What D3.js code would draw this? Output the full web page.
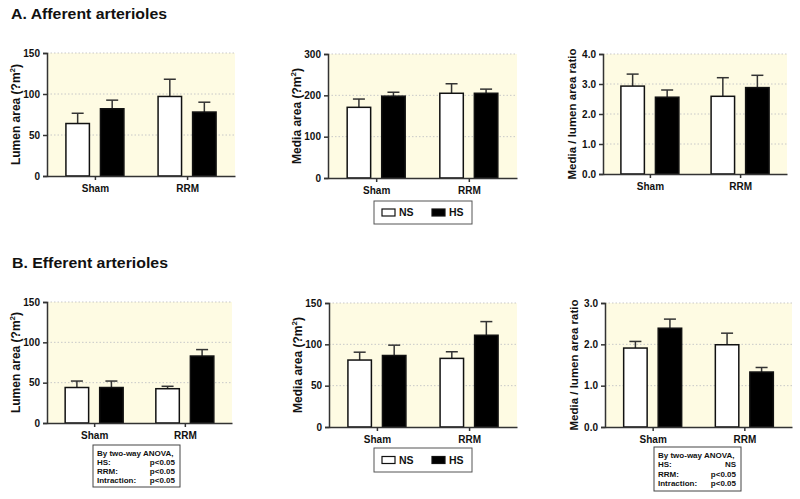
<!DOCTYPE html>
<html>
<head>
<meta charset="utf-8">
<script src="https://cdn.jsdelivr.net/npm/d3@7"></script>
<style>
  html, body { margin: 0; padding: 0; background: #ffffff; }
  svg { display: block; }
  text { font-family: "Liberation Sans", Arial, Helvetica, sans-serif; font-weight: bold; fill: #111; }
</style>
</head>
<body>
<svg id="chart" width="800" height="499"></svg>
<script>
// ---------------- DATA ----------------
const groups = ["Sham", "RRM"];
const seriesNames = ["NS", "HS"];

const sectionTitles = ["A. Afferent arterioles", "B. Efferent arterioles"];

// A. Afferent – lumen area
const affLumenNS = [64, 97];
const affLumenNSErr = [12.5, 21];
const affLumenHS = [82, 78];
const affLumenHSErr = [10.5, 12];
// A. Afferent – media area
const affMediaNS = [171, 205];
const affMediaNSErr = [20, 23];
const affMediaHS = [198, 205];
const affMediaHSErr = [9.5, 10];
// A. Afferent – media/lumen ratio
const affRatioNS = [2.93, 2.59];
const affRatioNSErr = [0.40, 0.62];
const affRatioHS = [2.56, 2.88];
const affRatioHSErr = [0.24, 0.41];

// B. Efferent – lumen area
const effLumenNS = [44, 42.5];
const effLumenNSErr = [8, 3];
const effLumenHS = [44, 83];
const effLumenHSErr = [8, 8];
// B. Efferent – media area
const effMediaNS = [81, 83];
const effMediaNSErr = [9.5, 8];
const effMediaHS = [86.5, 111];
const effMediaHSErr = [12.5, 16.5];
// B. Efferent – media/lumen ratio
const effRatioNS = [1.91, 1.99];
const effRatioNSErr = [0.16, 0.28];
const effRatioHS = [2.39, 1.33];
const effRatioHSErr = [0.22, 0.11];

// tick labels
const ticksArea150 = [0, 50, 100, 150];
const ticksArea300 = [0, 100, 200, 300];
const ticksRatio4 = [0, 1, 2, 3, 4];
const ticksRatio3 = [0, 1, 2, 3];

// stats annotations
const statsEffLumen = [["By two-way ANOVA,", ""], ["HS:", "p<0.05"], ["RRM:", "p<0.05"], ["Intraction:", "p<0.05"]];
const statsEffRatio = [["By two-way ANOVA,", ""], ["HS:", "NS"], ["RRM:", "p<0.05"], ["Intraction:", "p<0.05"]];

// ---------------- LAYOUT ----------------
const panels = [
  { label: "Lumen area (?m", sup: "2", ns: affLumenNS, nsE: affLumenNSErr, hs: affLumenHS, hsE: affLumenHSErr, ticks: ticksArea150, fmt: d3.format("d"),
    box: { l: 47, r: 235, t: 53, b: 176 } },
  { label: "Media area (?m", sup: "2", ns: affMediaNS, nsE: affMediaNSErr, hs: affMediaHS, hsE: affMediaHSErr, ticks: ticksArea300, fmt: d3.format("d"),
    box: { l: 328, r: 517, t: 54, b: 178 } },
  { label: "Media / lumen area ratio", sup: null, ns: affRatioNS, nsE: affRatioNSErr, hs: affRatioHS, hsE: affRatioHSErr, ticks: ticksRatio4, fmt: d3.format(".1f"),
    box: { l: 603, r: 787, t: 54, b: 174 } },
  { label: "Lumen area (?m", sup: "2", ns: effLumenNS, nsE: effLumenNSErr, hs: effLumenHS, hsE: effLumenHSErr, ticks: ticksArea150, fmt: d3.format("d"),
    box: { l: 47, r: 232, t: 302, b: 423 }, stats: statsEffLumen, statsBox: { l: 93, r: 180, t: 445, b: 487 } },
  { label: "Media area (?m", sup: "2", ns: effMediaNS, nsE: effMediaNSErr, hs: effMediaHS, hsE: effMediaHSErr, ticks: ticksArea150, fmt: d3.format("d"),
    box: { l: 329, r: 517, t: 303, b: 427 } },
  { label: "Media / lumen area ratio", sup: null, ns: effRatioNS, nsE: effRatioNSErr, hs: effRatioHS, hsE: effRatioHSErr, ticks: ticksRatio3, fmt: d3.format(".1f"),
    box: { l: 605, r: 792, t: 303, b: 427 }, stats: statsEffRatio, statsBox: { l: 654, r: 741, t: 447, b: 491 } }
];

const legends = [ { l: 374, r: 472, t: 201, b: 224 }, { l: 374, r: 472, t: 448, b: 472 } ];
const titlePos = [ { x: 11, y: 19 }, { x: 12, y: 268 } ];

const axisColor = "#333";
const bgColor = "#fefbe3";

const svg = d3.select("#chart");

// titles
sectionTitles.forEach((t, i) => {
  svg.append("text").attr("x", titlePos[i].x).attr("y", titlePos[i].y)
    .attr("font-size", 15.5).attr("textLength", 156).attr("lengthAdjust", "spacingAndGlyphs")
    .text(t);
});

panels.forEach(p => {
  const B = p.box;
  const g = svg.append("g");
  const maxT = p.ticks[p.ticks.length - 1];
  const y = d3.scaleLinear().domain([0, maxT]).range([B.b, B.t]);
  const xg = d3.scalePoint().domain(groups).range([B.l, B.r]).padding(0.52);
  const xs = d3.scaleBand().domain(seriesNames).range([-29, 29]).paddingInner(0.32);

  // background
  g.append("rect").attr("x", B.l).attr("y", B.t).attr("width", B.r - B.l).attr("height", B.b - B.t).attr("fill", bgColor);

  // gridlines
  g.selectAll(".grid").data(p.ticks.filter(t => t > 0)).join("line")
    .attr("x1", B.l).attr("x2", B.r).attr("y1", d => y(d)).attr("y2", d => y(d))
    .attr("stroke", "#c8c8c8").attr("stroke-width", 1).attr("stroke-dasharray", "1.5,2");

  // bars
  const rows = [];
  groups.forEach((grp, gi) => {
    rows.push({ grp, s: "NS", v: p.ns[gi], e: p.nsE[gi] });
    rows.push({ grp, s: "HS", v: p.hs[gi], e: p.hsE[gi] });
  });
  const bw = xs.bandwidth();
  rows.forEach(r => {
    const cx = xg(r.grp) + xs(r.s) + bw / 2;
    // error bar
    g.append("line").attr("x1", cx).attr("x2", cx).attr("y1", y(r.v)).attr("y2", y(r.v + r.e))
      .attr("stroke", axisColor).attr("stroke-width", 1.5);
    g.append("line").attr("x1", cx - 6).attr("x2", cx + 6).attr("y1", y(r.v + r.e)).attr("y2", y(r.v + r.e))
      .attr("stroke", axisColor).attr("stroke-width", 1.5);
    g.append("rect").attr("x", xg(r.grp) + xs(r.s)).attr("y", y(r.v)).attr("width", bw).attr("height", y(0) - y(r.v))
      .attr("fill", r.s === "NS" ? "#ffffff" : "#000000").attr("stroke", "#111").attr("stroke-width", 1.5);
  });

  // y axis
  const yAxis = d3.axisLeft(y).tickValues(p.ticks).tickFormat(p.fmt).tickSize(4).tickPadding(3);
  const ya = g.append("g").attr("transform", `translate(${B.l},0)`).call(yAxis);
  ya.select(".domain").attr("stroke", axisColor).attr("stroke-width", 1.5);
  ya.selectAll(".tick line").attr("stroke", axisColor).attr("stroke-width", 1.5);
  ya.selectAll(".tick text").attr("font-size", 10).attr("font-family", "Liberation Sans, Arial, sans-serif").attr("font-weight", "bold").attr("fill", "#111");

  // x axis
  const xAxis = d3.axisBottom(xg).tickSize(4).tickPadding(5).tickSizeOuter(0);
  const xa = g.append("g").attr("transform", `translate(0,${B.b})`).call(xAxis);
  xa.select(".domain").attr("stroke", axisColor).attr("stroke-width", 1.5);
  xa.selectAll(".tick line").attr("stroke", axisColor).attr("stroke-width", 1.5);
  xa.selectAll(".tick text").attr("font-size", 10).attr("font-family", "Liberation Sans, Arial, sans-serif").attr("font-weight", "bold").attr("fill", "#111");

  // y label
  const lt = g.append("text")
    .attr("transform", `translate(${B.l - 27},${(B.t + B.b) / 2}) rotate(-90)`)
    .attr("text-anchor", "middle").attr("font-size", p.sup ? 12 : 11.5);
  lt.append("tspan").text(p.label);
  if (p.sup) {
    lt.append("tspan").attr("font-size", 8).attr("dy", -5).text(p.sup);
    lt.append("tspan").attr("dy", 5).text(")");
  }

  // stats box
  if (p.stats) {
    const S = p.statsBox;
    g.append("rect").attr("x", S.l).attr("y", S.t).attr("width", S.r - S.l).attr("height", S.b - S.t)
      .attr("fill", "#fff").attr("stroke", "#444").attr("stroke-width", 1);
    const lh = (S.b - S.t - 6) / 4;
    p.stats.forEach((row, i) => {
      const yy = S.t + 3 + lh * i + lh * 0.5 + 3;
      g.append("text").attr("x", S.l + 4).attr("y", yy).attr("font-size", 8).text(row[0]);
      if (row[1]) g.append("text").attr("x", S.r - 5).attr("y", yy).attr("font-size", 8).attr("text-anchor", "end").text(row[1]);
    });
  }
});

// legends
legends.forEach(L => {
  const g = svg.append("g");
  g.append("rect").attr("x", L.l).attr("y", L.t).attr("width", L.r - L.l).attr("height", L.b - L.t)
    .attr("fill", "#fff").attr("stroke", "#555").attr("stroke-width", 1);
  const cy = (L.t + L.b) / 2;
  const items = [ { name: seriesNames[0], x: L.l + 8, fill: "#fff" }, { name: seriesNames[1], x: L.l + 58, fill: "#000" } ];
  items.forEach(it => {
    g.append("rect").attr("x", it.x).attr("y", cy - 3.5).attr("width", 13).attr("height", 7)
      .attr("fill", it.fill).attr("stroke", "#111").attr("stroke-width", 1.2);
    g.append("text").attr("x", it.x + 17).attr("y", cy + 3.8).attr("font-size", 10.5).text(it.name);
  });
});
</script>
</body>
</html>
